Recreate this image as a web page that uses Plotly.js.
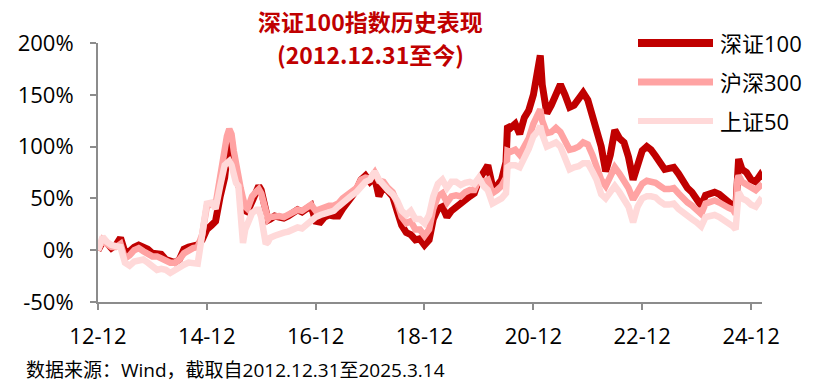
<!DOCTYPE html>
<html>
<head>
<meta charset="utf-8">
<script src="https://cdn.plot.ly/plotly-3.0.1.min.js"></script>
<style>html,body{margin:0;padding:0;background:#fff;}#chart{width:820px;height:392px;}</style>
</head>
<body>
<div id="chart"></div>
<script>
// ---- data (cumulative return since 2012-12-31, %) ----
const dates = [
'2012-12-31','2013-01-31','2013-02-28','2013-03-31','2013-04-30','2013-05-31','2013-06-30','2013-07-31','2013-08-31','2013-09-30','2013-10-31','2013-11-30','2013-12-31',
'2014-01-31','2014-02-28','2014-03-31','2014-04-30','2014-05-31','2014-06-30','2014-07-31','2014-08-31','2014-09-30','2014-10-31','2014-11-30','2014-12-31',
'2015-01-31','2015-02-28','2015-03-31','2015-04-30','2015-05-15','2015-05-31','2015-06-15','2015-06-30','2015-07-15','2015-07-31','2015-08-15','2015-08-31','2015-09-15','2015-09-30','2015-10-31','2015-11-30','2015-12-15','2015-12-31',
'2016-01-31','2016-02-15','2016-02-29','2016-03-31','2016-04-30','2016-05-31','2016-06-30','2016-07-31','2016-08-31','2016-09-30','2016-10-31','2016-11-30','2016-12-31',
'2017-01-31','2017-02-28','2017-03-31','2017-04-30','2017-05-31','2017-06-30','2017-07-31','2017-08-31','2017-09-30','2017-10-31','2017-11-30','2017-12-31',
'2018-01-31','2018-02-28','2018-03-31','2018-04-30','2018-05-31','2018-06-30','2018-07-31','2018-08-31','2018-09-30','2018-10-31','2018-11-30','2018-12-31',
'2019-01-31','2019-02-28','2019-03-31','2019-04-30','2019-05-31','2019-06-30','2019-07-31','2019-08-31','2019-09-30','2019-10-31','2019-11-30','2019-12-31',
'2020-01-31','2020-02-29','2020-03-31','2020-04-30','2020-05-31','2020-06-30','2020-07-10','2020-07-31','2020-08-31','2020-09-30','2020-10-31','2020-11-30','2020-12-31',
'2021-01-31','2021-02-15','2021-02-28','2021-03-31','2021-04-30','2021-05-31','2021-06-30','2021-07-31','2021-08-31','2021-09-30','2021-10-31','2021-11-30','2021-12-31',
'2022-01-31','2022-02-28','2022-03-31','2022-04-30','2022-05-31','2022-06-30','2022-07-31','2022-08-31','2022-09-30','2022-10-31','2022-11-30','2022-12-31',
'2023-01-31','2023-02-28','2023-03-31','2023-04-30','2023-05-31','2023-06-30','2023-07-31','2023-08-31','2023-09-30','2023-10-31','2023-11-30','2023-12-31',
'2024-01-31','2024-02-29','2024-03-31','2024-04-30','2024-05-31','2024-06-30','2024-07-31','2024-08-31','2024-09-18','2024-09-30','2024-10-08','2024-10-31','2024-11-30','2024-12-31',
'2025-01-31','2025-02-28','2025-03-14'
];
const szse100 = [
0,8,7,2,5,12,-2,-1,3,5,3,1,-3,
-3,-4,-9,-10,-12,-9,1,3,4,5,10,20,
24,28,52,70,90,100,105,85,72,64,55,45,38,37,48,55,62,58,
32,29,30,33,32,31,33,36,39,37,40,43,28,
27,32,34,33,33,40,45,52,58,68,72,66,
70,52,62,56,52,38,24,17,15,10,11,5,
10,30,40,42,32,38,42,44,50,52,55,68,
75,82,62,62,68,85,120,118,122,112,128,135,150,
178,188,160,132,140,152,160,150,138,140,146,152,145,
128,115,100,76,92,116,108,104,90,68,85,96,
100,97,91,84,78,79,80,74,66,60,56,50,
43,53,55,56,54,50,48,43,38,80,88,78,75,68,
66,72,68
];
const csi300 = [
0,10,6,3,3,6,-8,-5,0,2,-1,-3,-6,
-6,-8,-11,-12,-12,-9,-3,0,2,3,15,42,
45,44,75,100,110,117,112,96,82,72,60,50,42,40,52,57,59,55,
33,30,32,33,33,32,34,37,39,38,41,44,38,
40,42,43,43,45,50,53,57,60,68,70,69,
75,67,66,60,56,46,32,26,28,20,20,14,
20,40,52,55,46,52,53,52,56,58,58,68,
66,68,55,58,62,70,96,95,97,92,100,108,122,
130,136,125,113,114,118,114,104,97,98,100,104,102,
92,82,68,62,70,80,74,68,60,49,58,64,
67,66,65,62,59,59,60,55,50,46,43,39,
35,45,47,48,46,43,41,39,35,68,72,66,63,60,
58,62,60
];
const sse50 = [
0,13,8,5,4,3,-12,-15,-11,-10,-9,-12,-16,
-19,-18,-19,-22,-19,-17,-14,-12,-12,-13,15,45,
46,40,62,82,84,86,82,72,65,62,40,7,20,25,36,39,39,32,
6,8,12,14,16,17,18,20,22,21,25,30,32,
34,35,36,38,42,46,50,53,56,62,66,68,
76,68,62,58,54,48,38,34,38,30,30,26,
34,52,64,68,60,66,66,63,65,66,64,70,
62,58,45,48,50,55,80,82,82,80,88,98,110,
115,120,112,100,102,104,100,90,78,80,81,84,84,
76,68,54,50,56,62,56,50,42,27,42,50,
52,52,51,47,44,44,45,40,36,33,30,27,
23,32,33,34,32,29,27,23,20,52,56,50,48,44,
42,48,46
];
const seriesNames = ['深证100','沪深300','上证50'];
const seriesColors = ['#C00000','#FFA3A3','#FFD9D9'];
const yTicks = [-50,0,50,100,150,200];
const yTickText = ['-50%','0%','50%','100%','150%','200%'];
const xTicks = ['2012-12-31','2014-12-31','2016-12-31','2018-12-31','2020-12-31','2022-12-31','2024-12-31'];
const xTickText = ['12-12','14-12','16-12','18-12','20-12','22-12','24-12'];
const titleLines = ['深证100指数历史表现','(2012.12.31至今)'];
const sourceText = '数据来源：Wind，截取自2012.12.31至2025.3.14';

// ---- layout helpers (pixel -> paper) ----
const L = 98, R = 762, T = 43, B = 302;
const px = x => (x - L) / (R - L);
const py = y => (B - y) / (B - T);

const FONT = 'Open Sans, Noto Sans CJK SC, sans-serif';
const widths = [7, 6.5, 6.5];
const allY = [szse100, csi300, sse50];

const traces = allY.map((ys, i) => ({
  type: 'scatter', mode: 'lines', x: dates, y: ys, name: seriesNames[i],
  line: {color: seriesColors[i], width: widths[i], shape: 'linear'},
  showlegend: false, hoverinfo: 'skip'
}));

const legendRowsY = [43, 82, 121];
const legendWidths = [8, 7, 6];
const shapes = seriesNames.map((n, i) => ({
  type: 'line', xref: 'paper', yref: 'paper',
  x0: px(638), x1: px(713), y0: py(legendRowsY[i]), y1: py(legendRowsY[i]),
  line: {color: seriesColors[i], width: legendWidths[i]}
}));

const titleY = [21, 54];
const annotations = [
  ...seriesNames.map((n, i) => ({
    xref: 'paper', yref: 'paper', x: px(718), y: py(legendRowsY[i]),
    xanchor: 'left', yanchor: 'middle', text: n, showarrow: false,
    font: {family: FONT, size: 22, color: '#000'}
  })),
  ...titleLines.map((t, i) => ({
    xref: 'paper', yref: 'paper', x: px(370), y: py(titleY[i]), xanchor: 'center', yanchor: 'middle',
    text: '<b>' + t + '</b>', showarrow: false, borderpad: 0,
    font: {family: 'Noto Sans CJK SC, sans-serif', size: 23, color: '#C00000'}
  })),
  {xref: 'paper', yref: 'paper', x: px(24), y: py(370), xanchor: 'left', yanchor: 'middle',
   text: sourceText, showarrow: false,
   font: {family: FONT, size: 19, color: '#000'}}
];

const axisCommon = {
  showgrid: false, zeroline: false, showline: true, linecolor: '#8C8C8C', linewidth: 2,
  ticks: 'outside', ticklen: 6, tickwidth: 2, tickcolor: '#8C8C8C',
  tickfont: {family: FONT, size: 22, color: '#000'}
};

const layout = {
  width: 820, height: 392,
  margin: {l: L, r: 820 - R, t: T, b: 392 - B, pad: 0},
  paper_bgcolor: '#fff', plot_bgcolor: '#fff',
  showlegend: false,
  xaxis: Object.assign({}, axisCommon, {
    type: 'date', range: ['2012-12-31', '2025-03-14'],
    tickmode: 'array', tickvals: xTicks, ticktext: xTickText, ticklabelstandoff: 8
  }),
  yaxis: Object.assign({}, axisCommon, {
    range: [-50, 200], tickmode: 'array', tickvals: yTicks, ticktext: yTickText, ticklabelstandoff: 12
  }),
  shapes: shapes,
  annotations: annotations
};

Plotly.newPlot('chart', traces, layout, {displayModeBar: false, staticPlot: true});
</script>
</body>
</html>
